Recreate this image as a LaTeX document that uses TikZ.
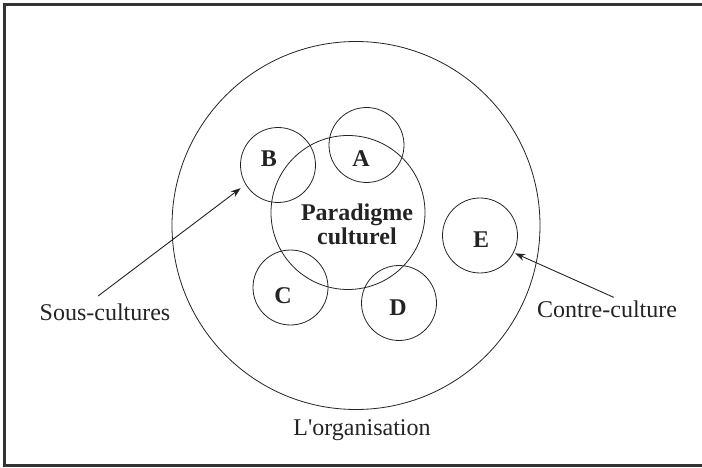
\documentclass[tikz,border=0pt]{standalone}
\usepackage{fontspec}
\setmainfont{Liberation Serif}
\usetikzlibrary{arrows.meta}

\definecolor{rahmen}{RGB}{51,51,51}
\definecolor{strich}{RGB}{35,35,35}

\begin{document}
\begin{tikzpicture}[
      x=1pt,
      y=-1pt,
      every node/.style={
        font=\fontsize{24}{24}\selectfont,
        text=strich,
        inner sep=2pt
      },
      kreis/.style={
        draw=strich,
        shape=circle,
        line width=0.8pt,
        inner sep=0pt
      },
      gruppe/.style={kreis, minimum size=75pt},
      buchst/.style={font=\fontsize{24}{24}\selectfont\bfseries},
      pfeil/.style={draw=strich, line width=0.9pt, -{Stealth[length=10pt,width=7pt]}}
    ]

      % Rahmen
      \useasboundingbox (0,0) rectangle (702,468);
      \draw [rahmen, line width=3pt] (702,4.5) -- (4.5,4.5) -- (4.5,465) -- (702,465);

      % Kreise
      \node [kreis, minimum size=368pt] (org) at (356,225.5) {};
      \node [kreis, minimum size=154pt] (para) at (348,212.5) {};
      \node [gruppe] (A) at (366.5,145) {};
      \node [gruppe] (B) at (278,165) {};
      \node [gruppe] (C) at (290.5,287.5) {};
      \node [gruppe] (D) at (399,303) {};
      \node [gruppe] (E) at (480,235.5) {};

      % Buchstaben
      \node [buchst] (labA) at (361,159) {A};
      \node [buchst] (labB) at (269,159) {B};
      \node [buchst] (labC) at (283,296) {C};
      \node [buchst] (labD) at (398,308) {D};
      \node [buchst] (labE) at (481,240) {E};
      \node [buchst, align=center] (labPara) at (357,224) {Paradigme\\culturel};

      % Beschriftungen
      \node (sous) at (105,312) {Sous-cultures};
      \node (contre) at (607,309) {Contre-culture};
      \node (orga) at (362,430) {L\textquotesingle organisation};

      % Pfeile
      \draw [pfeil, shorten <=9pt, shorten >=6pt] ([xshift=-14pt]sous.north) -- (B.211);
      \draw [pfeil, shorten <=2.5pt, shorten >=1.5pt] ([xshift=9pt]contre.north) -- (E.333);
    \end{tikzpicture}
\end{document}
